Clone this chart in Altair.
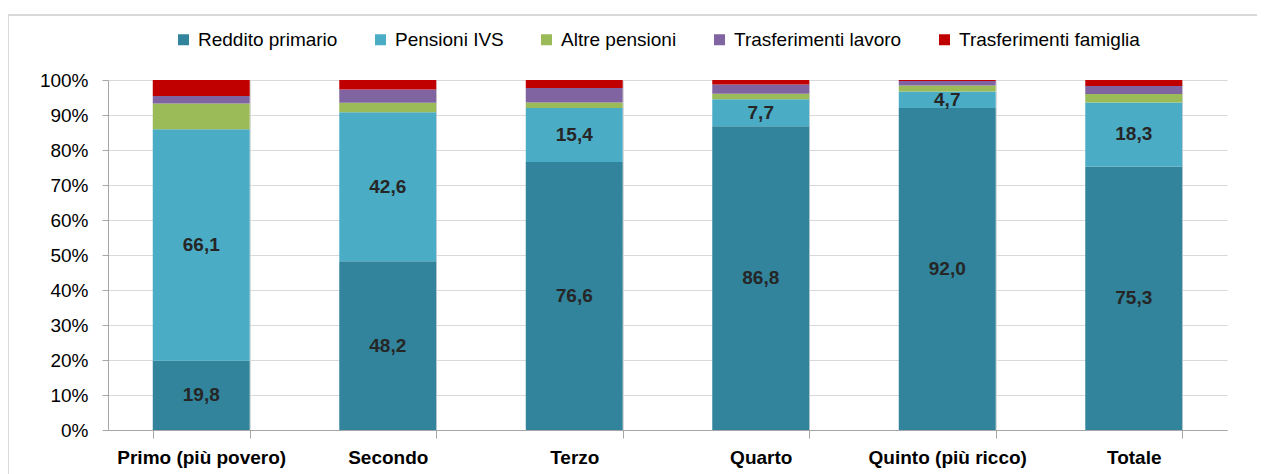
import altair as alt
import pandas as pd

categories = ["Primo (più povero)", "Secondo", "Terzo", "Quarto", "Quinto (più ricco)", "Totale"]
series = ["Reddito primario", "Pensioni IVS", "Altre pensioni", "Trasferimenti lavoro", "Trasferimenti famiglia"]
colors = ["#31849B", "#4BACC6", "#9BBB59", "#8064A2", "#C00000"]
reddito = [19.8, 48.2, 76.6, 86.8, 92.0, 75.3]
ivs = [66.1, 42.6, 15.4, 7.7, 4.7, 18.3]
altre = [7.4, 2.7, 1.6, 1.6, 1.7, 2.4]
lavoro = [2.1, 3.8, 4.1, 2.6, 1.3, 2.3]
famiglia = [4.6, 2.7, 2.3, 1.3, 0.3, 1.7]
labelled = ["Reddito primario", "Pensioni IVS"]

values = [reddito, ivs, altre, lavoro, famiglia]
rows = []
for ci, cat in enumerate(categories):
    acc = 0.0
    for si, s in enumerate(series):
        v = values[si][ci]
        rows.append({"cat": cat, "serie": s, "idx": si, "value": v,
                     "start": acc, "end": acc + v, "mid": acc + v / 2,
                     "lab": s in labelled})
        acc += v
df = pd.DataFrame(rows)

FONT = "Liberation Sans, Arial"
FS = 19

xscale = alt.Scale(paddingInner=0.48, paddingOuter=0.24)
xaxis = alt.Axis(labelAngle=0, tickBand="extent", grid=True, gridColor="#d9d9d9",
                 domainColor="#a6a6a6", tickColor="#a6a6a6", tickSize=8,
                 labelFont=FONT, labelFontSize=FS, labelFontWeight="bold",
                 labelColor="#000000", labelPadding=10, labelLimit=400)
yscale = alt.Scale(domain=[0, 100], nice=False)
yaxis = alt.Axis(values=list(range(0, 101, 10)), labelExpr="datum.value + '%'",
                 gridColor="#d9d9d9", domainColor="#a6a6a6", tickColor="#a6a6a6",
                 tickSize=6, labelPadding=14, labelFont=FONT, labelFontSize=FS,
                 labelColor="#000000", labelOverlap=False)

bars = alt.Chart(df).mark_bar().encode(
    x=alt.X("cat:N", sort=categories, title=None, scale=xscale, axis=xaxis),
    y=alt.Y("start:Q", scale=yscale, title=None, axis=yaxis),
    y2="end:Q",
    color=alt.Color("serie:N", scale=alt.Scale(domain=series, range=colors),
                    legend=alt.Legend(title=None, orient="none", direction="horizontal",
                                      legendX=66, legendY=-50, symbolType="square",
                                      symbolSize=121, symbolStrokeWidth=0, labelFont=FONT,
                                      labelFontSize=FS, labelColor="#000000", labelLimit=400,
                                      columnPadding=33, labelOffset=5, padding=0)),
    order=alt.Order("idx:Q"),
)

text = alt.Chart(df).transform_filter("datum.lab").transform_calculate(
    txt="replace(format(datum.value, '.1f'), '.', ',')"
).mark_text(font=FONT, fontSize=FS, fontWeight="bold", color="#262626", baseline="middle").encode(
    x=alt.X("cat:N", sort=categories, title=None, scale=xscale, axis=xaxis),
    y=alt.Y("mid:Q", scale=yscale, title=None, axis=yaxis),
    text="txt:N",
)

frame_top = alt.Chart(df).mark_rule(color="#d9d9d9", strokeWidth=1.5).encode(
    x=alt.value(-100), x2=alt.value(1160), y=alt.value(-65))
frame_left = alt.Chart(df).mark_rule(color="#d9d9d9", strokeWidth=1.5).encode(
    x=alt.value(-100), y=alt.value(-65), y2=alt.value(420))

chart = alt.layer(bars, text, frame_top, frame_left).properties(
    width=1119, height=350,
    autosize=alt.AutoSizeParams(type="none"),
    padding={"left": 100, "top": 72, "right": 30, "bottom": 46},
).configure_view(stroke=None)

chart.save("out.html", embed_options={"renderer": "svg", "actions": False})
